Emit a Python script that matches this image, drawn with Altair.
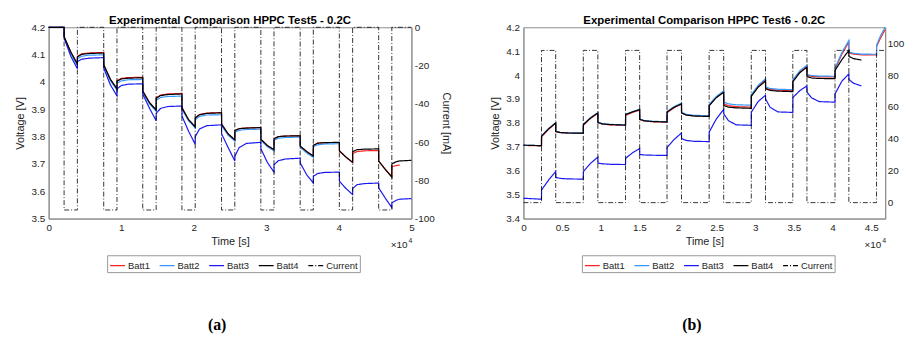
import altair as alt
import pandas as pd

SERIES = ["Batt1", "Batt2", "Batt3", "Batt4", "Current"]
COLORS = ["#FF2020", "#3399FF", "#1A1AF0", "#000000", "#000000"]
DASHES = [[1, 0], [1, 0], [1, 0], [1, 0], [5, 2, 1, 2]]

# ---------------- Test5 (discharge) ----------------
A_t = [0,
       2130, 2140, 3040, 3960, 3970, 4560, 5560,
       7590, 7600, 8500, 9420, 9430, 10020, 11020,
       12970, 12980, 13880, 14820, 14830, 15420, 16420,
       18370, 18380, 19280, 20200, 20210, 20800, 21800,
       23830, 23840, 24740, 25660, 25670, 26260, 27260,
       29250, 29260, 30160, 31060, 31070, 31660, 32660,
       34670, 34680, 35580, 36480, 36490, 37080, 38080,
       40070, 40080, 40980, 41900, 41910, 42500, 43500,
       45490, 45500, 46400, 47300, 47310, 47900, 48400,
       50000]
A_batt1 = [4.200,
           4.200, 4.165, 4.110, 4.066, 4.094, 4.103, 4.106,
           4.108, 4.063, 4.010, 3.975, 4.005, 4.013, 4.016,
           4.017, 3.967, 3.925, 3.897, 3.942, 3.952, 3.956,
           3.958, 3.906, 3.862, 3.836, 3.869, 3.881, 3.886,
           3.888, 3.846, 3.810, 3.788, 3.822, 3.829, 3.832,
           3.833, 3.790, 3.767, 3.752, 3.792, 3.800, 3.802,
           3.803, 3.765, 3.745, 3.729, 3.768, 3.776, 3.778,
           3.778, 3.747, 3.725, 3.705, 3.738, 3.745, 3.748,
           3.749, 3.710, 3.680, 3.655, 3.690, 3.694, 3.696,
           None]
A_batt2 = [4.200,
           4.200, 4.163, 4.105, 4.060, 4.085, 4.094, 4.098,
           4.099, 4.058, 4.005, 3.970, 3.996, 4.004, 4.008,
           4.009, 3.962, 3.920, 3.893, 3.933, 3.943, 3.947,
           3.948, 3.900, 3.858, 3.832, 3.862, 3.874, 3.879,
           3.880, 3.840, 3.805, 3.784, 3.816, 3.823, 3.826,
           3.827, 3.786, 3.763, 3.748, 3.787, 3.794, 3.797,
           3.798, 3.760, 3.740, 3.724, 3.763, 3.770, 3.773,
           3.774, None, None, None, None, None, None,
           None, None, None, None, None, None, None,
           None]
A_batt3 = [4.200,
           4.200, 4.160, 4.095, 4.048, 4.075, 4.083, 4.087,
           4.089, 4.050, 3.990, 3.949, 3.975, 3.987, 3.992,
           3.993, 3.955, 3.905, 3.858, 3.885, 3.903, 3.910,
           3.912, 3.875, 3.820, 3.772, 3.800, 3.828, 3.840,
           3.843, 3.810, 3.760, 3.711, 3.728, 3.760, 3.775,
           3.779, 3.755, 3.705, 3.670, 3.697, 3.712, 3.718,
           3.721, 3.703, 3.660, 3.630, 3.655, 3.665, 3.669,
           3.670, 3.637, 3.610, 3.588, 3.610, 3.624, 3.628,
           3.630, 3.612, 3.575, 3.540, 3.558, 3.567, 3.571,
           3.573]
A_batt4 = [4.200,
           4.200, 4.165, 4.110, 4.066, 4.092, 4.101, 4.104,
           4.106, 4.062, 4.010, 3.975, 4.003, 4.011, 4.014,
           4.015, 3.966, 3.925, 3.897, 3.940, 3.950, 3.954,
           3.956, 3.905, 3.862, 3.836, 3.868, 3.880, 3.885,
           3.887, 3.845, 3.810, 3.788, 3.822, 3.829, 3.831,
           3.833, 3.790, 3.767, 3.752, 3.792, 3.800, 3.802,
           3.803, 3.765, 3.745, 3.729, 3.768, 3.776, 3.778,
           3.779, 3.748, 3.725, 3.706, 3.745, 3.752, 3.754,
           3.755, 3.710, 3.680, 3.651, 3.700, 3.708, 3.711,
           3.713]
A_cur_t = [0, 2130, 2130, 3960, 3960, 7590, 7590, 9420, 9420,
           12970, 12970, 14820, 14820, 18370, 18370, 20200, 20200,
           23830, 23830, 25660, 25660, 29250, 29250, 31060, 31060,
           34670, 34670, 36480, 36480, 40070, 40070, 41900, 41900,
           45490, 45490, 47300, 47300, 50000]
A_cur = [0, 0, -95.5, -95.5, 0, 0, -95.5, -95.5, 0,
         0, -95.5, -95.5, 0, 0, -95.5, -95.5, 0,
         0, -95.5, -95.5, 0, 0, -95.5, -95.5, 0,
         0, -95.5, -95.5, 0, 0, -95.5, -95.5, 0,
         0, -95.5, -95.5, 0, 0]

# ---------------- Test6 (charge) ----------------
B_t = [0,
       2340, 2350, 3240, 4180, 4190, 4780, 5780,
       7750, 7760, 8650, 9630, 9640, 10230, 11230,
       13210, 13220, 14110, 15040, 15050, 15640, 16640,
       18580, 18590, 19480, 20450, 20460, 21050, 22050,
       24030, 24040, 24930, 25910, 25920, 26510, 27510,
       29480, 29490, 30380, 31320, 31330, 31920, 32920,
       34850, 34860, 35750, 36680, 36690, 37280, 38280,
       40310, 40320, 41210, 42100, 42110, 42700, 43720,
       45680, 45690, 46200, 46780]
B_batt1 = [3.706,
           3.704, 3.742, 3.772, 3.799, 3.764, 3.759, 3.757,
           3.756, 3.790, 3.818, 3.840, 3.801, 3.795, 3.792,
           3.790, 3.831, 3.844, 3.853, 3.814, 3.808, 3.805,
           3.803, 3.843, 3.863, 3.880, 3.842, 3.834, 3.830,
           3.828, 3.874, 3.907, 3.930, 3.880, 3.872, 3.868,
           3.866, 3.914, 3.953, 3.980, 3.946, 3.940, 3.937,
           3.935, 3.976, 4.014, 4.038, 4.000, 3.995, 3.993,
           3.992, 4.025, 4.088, 4.138, 4.093, 4.088, 4.085,
           4.084, 4.120, 4.155, 4.190]
B_batt2 = [3.707,
           3.705, 3.746, 3.776, 3.801, 3.765, 3.760, 3.758,
           3.757, 3.794, 3.821, 3.843, 3.803, 3.797, 3.794,
           3.792, 3.836, 3.847, 3.857, 3.816, 3.810, 3.807,
           3.805, 3.848, 3.868, 3.883, 3.845, 3.836, 3.832,
           3.830, 3.877, 3.910, 3.934, 3.888, 3.880, 3.876,
           3.874, 3.918, 3.958, 3.984, 3.950, 3.944, 3.941,
           3.939, 3.980, 4.018, 4.041, 4.003, 3.998, 3.996,
           3.995, 4.030, 4.095, 4.145, 4.097, 4.091, 4.088,
           4.087, 4.125, 4.165, 4.200]
B_batt3 = [3.485,
           3.481, 3.520, 3.560, 3.597, 3.572, 3.568, 3.566,
           3.565, 3.597, 3.630, 3.657, 3.632, 3.629, 3.627,
           3.626, 3.652, 3.675, 3.693, 3.668, 3.666, 3.665,
           3.664, 3.697, 3.730, 3.758, 3.735, 3.727, 3.723,
           3.722, 3.762, 3.815, 3.857, 3.838, 3.810, 3.792,
           3.790, 3.845, 3.890, 3.916, 3.900, 3.865, 3.846,
           3.844, 3.906, 3.935, 3.955, 3.929, 3.905, 3.889,
           3.887, 3.922, 3.975, 4.005, 3.982, 3.966, 3.955,
           None, None, None, None]
B_batt4 = [3.707,
           3.705, 3.745, 3.775, 3.800, 3.764, 3.760, 3.758,
           3.757, 3.793, 3.820, 3.842, 3.802, 3.796, 3.793,
           3.791, 3.835, 3.846, 3.856, 3.815, 3.809, 3.806,
           3.804, 3.846, 3.865, 3.880, 3.842, 3.833, 3.829,
           3.827, 3.872, 3.905, 3.928, 3.873, 3.866, 3.863,
           3.861, 3.912, 3.950, 3.975, 3.943, 3.936, 3.933,
           3.931, 3.972, 4.010, 4.033, 3.994, 3.988, 3.986,
           3.985, 4.020, 4.065, 4.103, 4.078, 4.069, 4.063,
           None, None, None, None]
B_cur_t = [0, 2340, 2340, 4180, 4180, 7750, 7750, 9630, 9630,
           13210, 13210, 15040, 15040, 18580, 18580, 20450, 20450,
           24030, 24030, 25910, 25910, 29480, 29480, 31320, 31320,
           34850, 34850, 36680, 36680, 40310, 40310, 42100, 42100,
           45680, 45680, 46780]
B_cur = [0, 0, 95.5, 95.5, 0, 0, 95.5, 95.5, 0,
         0, 95.5, 95.5, 0, 0, 95.5, 95.5, 0,
         0, 95.5, 95.5, 0, 0, 95.5, 95.5, 0,
         0, 95.5, 95.5, 0, 0, 95.5, 95.5, 0,
         0, 95.5, 95.5]

A_xticks = [0, 5000, 10000, 15000, 20000, 25000, 30000, 35000, 40000, 45000, 50000]
B_xticks = [0, 5000, 10000, 15000, 20000, 25000, 30000, 35000, 40000, 45000]
A_vticks = [3.5, 3.6, 3.7, 3.8, 3.9, 4.0, 4.1, 4.2]
B_vticks = [3.4, 3.5, 3.6, 3.7, 3.8, 3.9, 4.0, 4.1, 4.2]
A_cticks = [-100, -80, -60, -40, -20, 0]
B_cticks = [0, 20, 40, 60, 80, 100]

H = 193


def text_layer(s, x, y, **kw):
    return alt.Chart(pd.DataFrame({"s": [s]})).mark_text(**kw).encode(
        text="s:N", x=alt.value(x), y=alt.value(y))


def panel(t, batts, ct, cc, xmax, xticks, vdom, vticks, cdom, cticks, title, caption,
          right_title, W):
    rows = []
    for name, vals in zip(SERIES[:4], batts):
        for i, (tt, v) in enumerate(zip(t, vals)):
            if v is not None:
                rows.append({"t": tt, "v": v, "series": name, "i": i})
    dv = pd.DataFrame(rows)
    dc = pd.DataFrame({"t": ct, "c": cc, "series": "Current", "i": list(range(len(ct)))})

    color = alt.Color("series:N", scale=alt.Scale(domain=SERIES, range=COLORS),
                      legend=alt.Legend(title=None))
    dash = alt.StrokeDash("series:N", scale=alt.Scale(domain=SERIES, range=DASHES),
                          legend=alt.Legend(title=None))
    x = alt.X("t:Q", scale=alt.Scale(domain=[0, xmax], nice=False, zero=False),
              axis=alt.Axis(values=xticks, labelExpr="'' + datum.value/10000",
                            title="Time [s]", labelPadding=4, titlePadding=3,
                            labelFlush=False))
    volt = alt.Chart(dv).mark_line(strokeWidth=1.2).encode(
        x=x,
        y=alt.Y("v:Q", scale=alt.Scale(domain=vdom, nice=False, zero=False),
                axis=alt.Axis(values=vticks, labelExpr="'' + datum.value",
                              title="Voltage [V]", labelPadding=4, titlePadding=5,
                              labelFlush=False)),
        color=color, strokeDash=dash, order=alt.Order("i:Q"))
    if right_title:
        raxis = alt.Axis(orient="right", values=cticks, labelExpr="'' + datum.value",
                         title="Current [mA]", labelPadding=3, titlePadding=6,
                         labelFlush=False)
    else:
        raxis = alt.Axis(orient="right", values=cticks, labelExpr="'' + datum.value",
                         title=None, labelPadding=2, labelFlush=False)
    cur = alt.Chart(dc).mark_line(strokeWidth=0.8).encode(
        x=alt.X("t:Q"),
        y=alt.Y("c:Q", scale=alt.Scale(domain=cdom, nice=False, zero=False), axis=raxis),
        color=color, strokeDash=dash, order=alt.Order("i:Q"))
    t1 = text_layer("×10", W - 4, H + 30, align="right", baseline="alphabetic",
                    font="Liberation Sans", fontSize=10, color="#262626")
    t2 = text_layer("4", W - 3, H + 25, align="left", baseline="alphabetic",
                    font="Liberation Sans", fontSize=7, color="#262626")
    t3 = text_layer(caption, 170, 300, align="center", baseline="middle",
                    font="Liberation Serif", fontSize=16, fontWeight="bold", color="black")
    return alt.layer(volt, cur, t1, t2, t3).resolve_scale(y="independent").properties(
        width=W, height=H, title=title)


A = panel(A_t, [A_batt1, A_batt2, A_batt3, A_batt4], A_cur_t, A_cur, 50000, A_xticks,
          [3.5, 4.2], A_vticks, [-100, 0], A_cticks,
          "Experimental Comparison HPPC Test5 - 0.2C", "(a)", True, 366)
B = panel(B_t, [B_batt1, B_batt2, B_batt3, B_batt4], B_cur_t, B_cur, 46800, B_xticks,
          [3.4, 4.2], B_vticks, [-10, 110], B_cticks,
          "Experimental Comparison HPPC Test6 - 0.2C", "(b)", False, 365)

chart = alt.hconcat(A, B, spacing=37).resolve_scale(
    color="independent", strokeDash="independent"
).properties(
    padding={"left": 6, "top": 5, "right": 0, "bottom": 0}
).configure_view(
    stroke="#8c8c8c", strokeWidth=1
).configure_axis(
    grid=False, ticks=False, domainColor="#8c8c8c",
    labelFont="Liberation Sans", labelFontSize=10, labelColor="#262626",
    titleFont="Liberation Sans", titleFontSize=11, titleFontWeight="normal",
    titleColor="#262626"
).configure_title(
    font="Liberation Sans", fontSize=11.5, fontWeight="bold", color="#000000",
    offset=-4.5, anchor="middle"
).configure_legend(
    orient="none", legendX=59, legendY=230, direction="horizontal",
    symbolType="stroke", symbolSize=225, symbolStrokeWidth=1.3,
    labelFont="Liberation Sans", labelFontSize=9.5, labelColor="#262626",
    strokeColor="#999999", fillColor="white", padding=2, columnPadding=6,
    labelOffset=2, cornerRadius=0
)

chart.save("out.html", embed_options={"renderer": "svg", "actions": False})
